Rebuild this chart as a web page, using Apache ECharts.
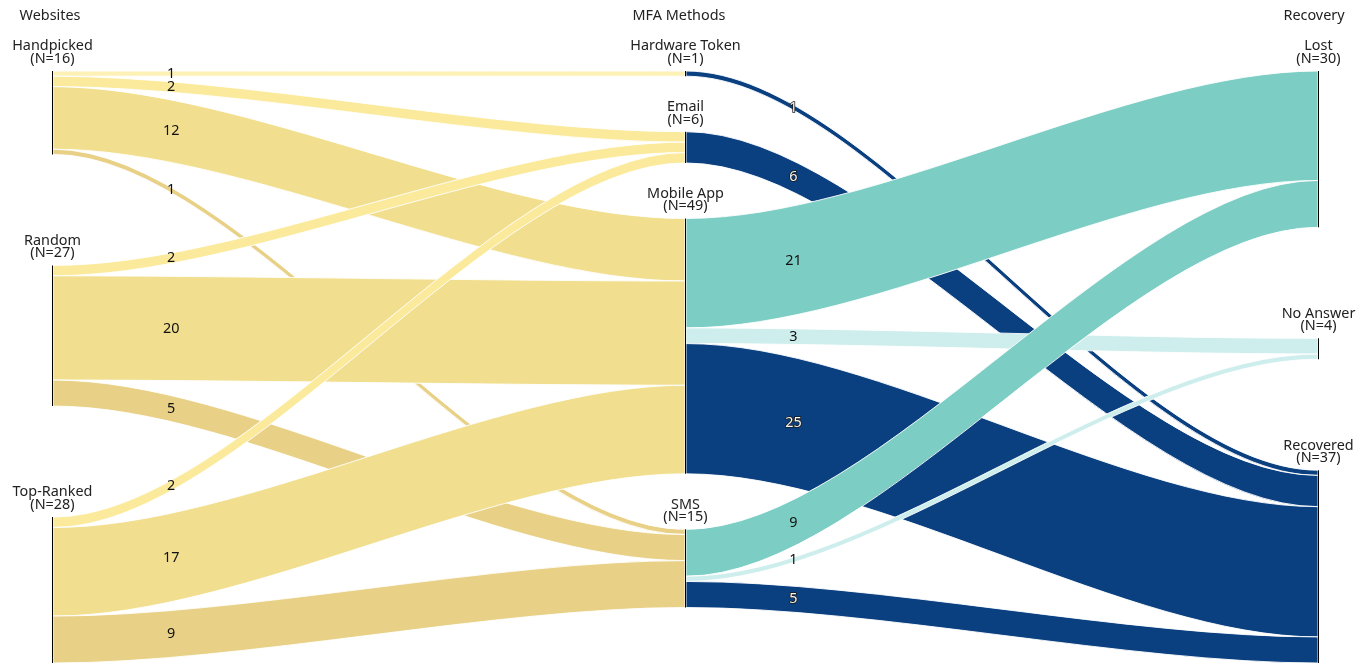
<!DOCTYPE html>
<html>
<head>
<meta charset="utf-8">
<script src="https://cdn.jsdelivr.net/npm/echarts@6/dist/echarts.min.js"></script>
<style>
html,body{margin:0;padding:0;background:#fff;}
#chart{width:1370px;height:663px;}
</style>
</head>
<body>
<div id="chart"></div>
<script>
// ---------------- data ----------------
const columnTitles = ['Websites', 'MFA Methods', 'Recovery'];
const websites = ['Handpicked', 'Random', 'Top-Ranked'];
const mfaMethods = ['Hardware Token', 'Email', 'Mobile App', 'SMS'];
const recoveryOutcomes = ['Lost', 'No Answer', 'Recovered'];

const websiteLinkSource = ['Handpicked', 'Handpicked', 'Handpicked', 'Handpicked', 'Random', 'Random', 'Random', 'Top-Ranked', 'Top-Ranked', 'Top-Ranked'];
const websiteLinkTarget = ['Hardware Token', 'Email', 'Mobile App', 'SMS', 'Email', 'Mobile App', 'SMS', 'Email', 'Mobile App', 'SMS'];
const websiteLinkValue = [1, 2, 12, 1, 2, 20, 5, 2, 17, 9];

const methodLinkSource = ['Hardware Token', 'Email', 'Mobile App', 'Mobile App', 'Mobile App', 'SMS', 'SMS', 'SMS'];
const methodLinkTarget = ['Recovered', 'Recovered', 'Lost', 'No Answer', 'Recovered', 'Lost', 'No Answer', 'Recovered'];
const methodLinkValue = [1, 6, 21, 3, 25, 9, 1, 5];

// ---------------- styles / layout knobs ----------------
const FONT = 'Noto Sans';
const FONT_SIZE = 14.4;
const linkColorByTarget = {
  'Hardware Token': '#fdf1b6',
  'Email': '#fbea9c',
  'Mobile App': '#f1df8f',
  'SMS': '#e8d186',
  'Lost': '#7ccdc4',
  'No Answer': '#cdeeec',
  'Recovered': '#0a4080'
};
const darkTargets = { 'Recovered': true };
const PAD = { left: 52, right: 51, top: 71, bottom: 0 };
const NODE_GAP = 74;
const GAP_SLOTS = [2, 4, 2];          // free space split per column
const CURVENESS = 0.3;
const LABEL_FRACTION = [0.187, 0.17]; // where along each stage the value label sits
const headerX = [50, 679, 1314];

// ---------------- build ----------------
const chart = echarts.init(document.getElementById('chart'), null, { renderer: 'canvas' });
const H = chart.getHeight() - PAD.top - PAD.bottom;

const links = [];
function addLinks(src, tgt, val) {
  for (let i = 0; i < src.length; i++) {
    const dark = !!darkTargets[tgt[i]];
    links.push({
      source: src[i], target: tgt[i], value: val[i],
      lineStyle: { color: linkColorByTarget[tgt[i]] },
      edgeLabel: dark
        ? { color: '#f6f6f6', textBorderColor: '#1a1a1a', textBorderWidth: 1.6 }
        : { color: '#111' }
    });
  }
}
addLinks(websiteLinkSource, websiteLinkTarget, websiteLinkValue);
addLinks(methodLinkSource, methodLinkTarget, methodLinkValue);

function nodeValue(name) {
  let vin = 0, vout = 0;
  links.forEach(function (l) {
    if (l.source === name) vout += l.value;
    if (l.target === name) vin += l.value;
  });
  return Math.max(vin, vout);
}

const columns = [websites, mfaMethods, recoveryOutcomes];
let ky = Infinity;
columns.forEach(function (col) {
  const sum = col.reduce(function (a, n) { return a + nodeValue(n); }, 0);
  ky = Math.min(ky, (H - (col.length - 1) * NODE_GAP) / sum);
});

const nodes = [];
columns.forEach(function (col, ci) {
  const sum = col.reduce(function (a, n) { return a + nodeValue(n); }, 0);
  const gap = (H - sum * ky) / GAP_SLOTS[ci];
  let y = 0;
  col.forEach(function (name) {
    nodes.push({ name: name, localY: y / H });
    y += nodeValue(name) * ky + gap;
  });
});

const option = {
  animation: false,
  backgroundColor: '#fff',
  graphic: columnTitles.map(function (t, i) {
    return {
      type: 'text', x: headerX[i], y: 15.5, silent: true,
      style: { text: t, fill: '#222', fontSize: FONT_SIZE, fontFamily: FONT, align: 'center', verticalAlign: 'middle' }
    };
  }),
  series: [{
    type: 'sankey',
    left: PAD.left, right: PAD.right, top: PAD.top, bottom: PAD.bottom,
    nodeWidth: 1,
    nodeGap: NODE_GAP,
    layoutIterations: 0,
    nodeAlign: 'justify',
    draggable: false,
    silent: true,
    emphasis: { disabled: true },
    itemStyle: { color: '#000', borderWidth: 0 },
    label: {
      show: true, position: 'top', distance: 6,
      color: '#222', fontFamily: FONT, fontSize: FONT_SIZE, lineHeight: 12.5, align: 'center',
      formatter: function (p) { return p.name + '\n(N=' + p.value + ')'; }
    },
    edgeLabel: {
      show: true, position: 'inside', fontFamily: FONT, fontSize: FONT_SIZE,
      formatter: function (p) { return String(p.value); }
    },
    lineStyle: { curveness: CURVENESS, opacity: 1, borderColor: '#fff', borderWidth: 0.9 },
    data: nodes,
    links: links
  }]
};
chart.setOption(option);

// place each value label on its own link, a fixed share of the way along it
function cubic(a, b, c, d, t) {
  const u = 1 - t;
  return u * u * u * a + 3 * u * u * t * b + 3 * u * t * t * c + t * t * t * d;
}
const zr = chart.getZr();
zr.storage.getDisplayList(true).forEach(function (el) {
  const s = el.shape;
  if (!s || s.cpx1 == null || s.extent == null) return;
  if (!el.getTextContent || !el.getTextContent()) return;
  const frac = s.x1 < 300 ? LABEL_FRACTION[0] : LABEL_FRACTION[1];
  const xt = s.x1 + frac * (s.x2 - s.x1);
  let lo = 0, hi = 1;
  for (let k = 0; k < 50; k++) {
    const m = (lo + hi) / 2;
    if (cubic(s.x1, s.cpx1, s.cpx2, s.x2, m) < xt) lo = m; else hi = m;
  }
  const t = (lo + hi) / 2;
  const yt = cubic(s.y1, s.cpy1, s.cpy2, s.y2, t) + s.extent / 2;
  const r = el.getBoundingRect();
  el.setTextConfig({ position: 'inside', offset: [xt - (r.x + r.width / 2), yt - (r.y + r.height / 2)] });
  el.markRedraw();
});
zr.refreshImmediately();
</script>
</body>
</html>
